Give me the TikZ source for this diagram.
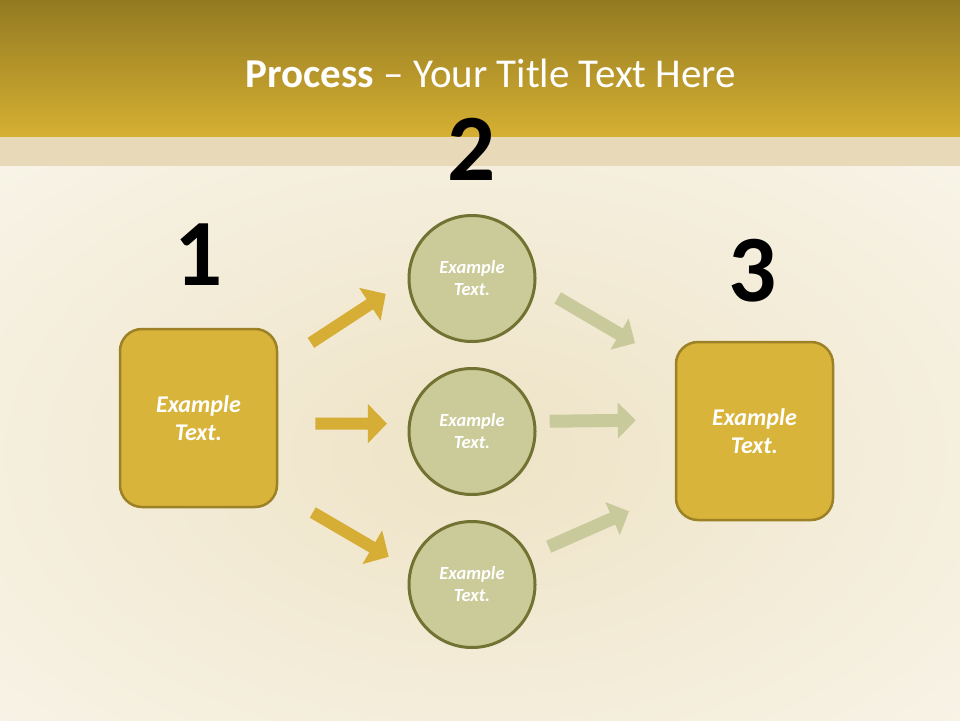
\documentclass[tikz,border=0pt]{standalone}
\usepackage{fontspec}
\setmainfont{Carlito}
\usetikzlibrary{arrows.meta, positioning}
\definecolor{headtop}{HTML}{937A22}
\definecolor{headbot}{HTML}{D6B032}
\definecolor{band}{HTML}{E8D9B8}
\definecolor{paper}{HTML}{FBF9F2}
\definecolor{leaf}{HTML}{EEE3C6}
\definecolor{goldfill}{HTML}{D9B43A}
\definecolor{golddraw}{HTML}{9C8126}
\definecolor{olivefill}{HTML}{CACB98}
\definecolor{olivedraw}{HTML}{727232}
\definecolor{goldarrow}{HTML}{D6AE35}
\definecolor{olivearrow}{HTML}{C9CA9B}
\tikzset{
  stepbox/.style = {rectangle, rounded corners=22pt, draw=golddraw, line width=2.5pt, fill=goldfill, align=center, minimum width=157pt, minimum height=178pt, text=white, font=\bfseries\itshape\fontsize{24}{28}\selectfont},
  stepcircle/.style = {circle, draw=olivedraw, line width=3pt, fill=olivefill, align=center, minimum size=126pt, inner sep=0pt, text=white, font=\bfseries\itshape\fontsize{18.5}{22}\selectfont},
  number/.style = {anchor=base, font=\bfseries\fontsize{95}{100}\selectfont},
  goldline/.style = {draw=goldarrow, line width=12pt, -{Triangle[length=19pt, width=38pt]}},
  oliveline/.style = {draw=olivearrow, line width=13pt, -{Triangle[length=18pt, width=35pt]}}
}

\begin{document}
\begin{tikzpicture}[x=1pt, y=-1pt]
\useasboundingbox (0,0) rectangle (960,720);

% Background and header
\fill[paper] (0,0) rectangle (960,720);
\shade[inner color=leaf, outer color=paper] (475,455) ellipse [x radius=900, y radius=560];
\shade[top color=headtop, bottom color=headbot] (0,0) rectangle (960,137);
\fill[band] (0,137) rectangle (960,166);
\node[anchor=base, text=white, font=\fontsize{41}{48}\selectfont] (title) at (491,87) {\textbf{Process} – Your Title Text Here};

% Steps
\node[stepbox] (box1) at (198.5,418) {Example\\Text.};
\node[stepcircle] (c1) at (472,278.5) {Example\\Text.};
\node[stepcircle, below=24pt of c1] (c2) {Example\\Text.};
\node[stepcircle, below=24pt of c2] (c3) {Example\\Text.};
\node[stepbox] (box2) at (754.5,431) {Example\\Text.};

% Numbers
\node[number] (n1) at (199,285) {1};
\node[number] (n2) at (472,180) {2};
\node[number] (n3) at (753,301) {3};

% Arrows
\draw[goldline, shorten <=39pt, shorten >=26pt] (box1.34) -- (c1.181);
\draw[goldline, shorten <=37pt, shorten >=21pt] (box1.-4) -- (c2.173);
\draw[goldline, shorten <=40pt, shorten >=24pt] (box1.-43) -- (c3.166);

\draw[oliveline, shorten <=25pt, shorten >=46pt] (c1.-6) -- (box2.141.5);
\draw[oliveline, shorten <=14pt, shorten >=39pt] (c2.9) -- (box2.172.7);
\draw[oliveline, shorten <=21pt, shorten >=50pt] (c3.27) -- (box2.217.8);

\end{tikzpicture}
\end{document}
